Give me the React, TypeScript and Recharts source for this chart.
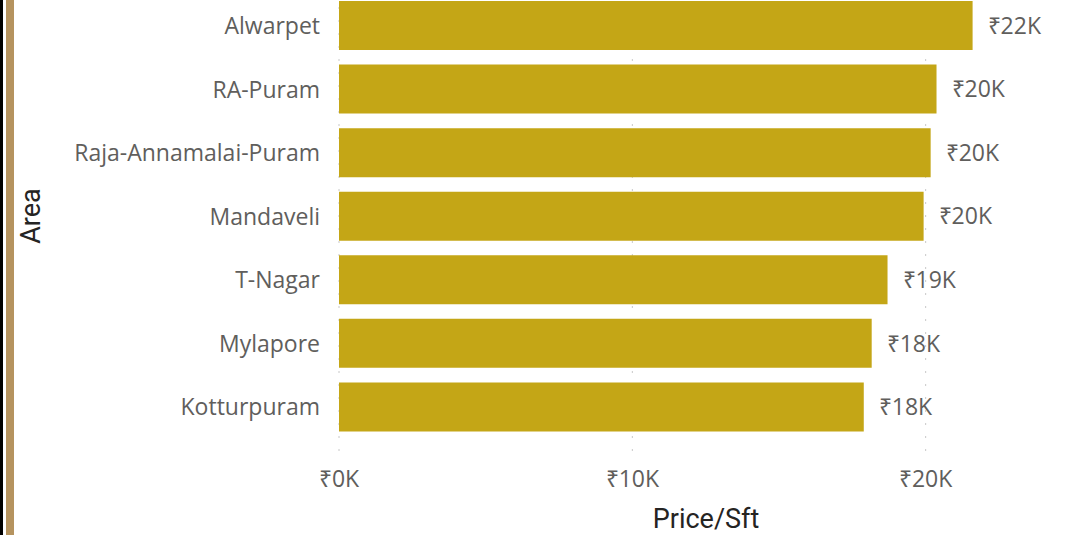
import React from "react";
import { BarChart, Bar, XAxis, YAxis, CartesianGrid, LabelList, Label } from "recharts";

const areas = ["Alwarpet", "RA-Puram", "Raja-Annamalai-Puram", "Mandaveli", "T-Nagar", "Mylapore", "Kotturpuram"];
const pricePerSft = [21600, 20370, 20170, 19930, 18700, 18160, 17890];
const xTicks = [0, 10000, 20000];
const xMax = 24000;

const data = areas.map((a, i) => ({ area: a, price: pricePerSft[i] }));

const fmt = (v: number) => `₹${Math.round(v / 1000)}K`;

const tickFont = { fontFamily: "'Segoe UI', 'Open Sans', sans-serif", fontSize: 23, fill: "#605e5c" };
const titleFont = "'Roboto', 'DejaVu Sans', sans-serif";

const gridX = (props: any) => {
  const xAxis = props?.xAxis;
  if (xAxis && typeof xAxis.scale === "function") {
    return xTicks.map((t) => xAxis.scale(t));
  }
  const off = props?.offset || { left: 339, width: 704 };
  return xTicks.map((t) => off.left + (t / xMax) * off.width);
};

export default function App() {
  return (
    <div style={{ position: "fixed", left: 0, top: 0, width: 1077, height: 535, background: "#fff", overflow: "hidden" }}>
      <div style={{ position: "absolute", left: 0, top: 0, width: 3, height: 535, background: "#000" }} />
      <div style={{ position: "absolute", left: 6, top: 0, width: 8, height: 535, background: "#b5935f" }} />
      <div style={{ position: "absolute", left: 0, top: 0 }}>
        <BarChart
          width={1077}
          height={535}
          data={data}
          layout="vertical"
          margin={{ top: -6, right: 34, left: 0, bottom: 0 }}
          barSize={49}
        >
          <CartesianGrid
            horizontal={false}
            vertical={true}
            stroke="#c8c8c8"
            strokeDasharray="2 11"
            verticalCoordinatesGenerator={gridX}
          />
          <XAxis
            type="number"
            domain={[0, xMax]}
            ticks={xTicks}
            tickFormatter={fmt}
            axisLine={false}
            tickLine={false}
            tickSize={0}
            tickMargin={12}
            height={76}
            tick={tickFont}
            interval={0}
          >
            <Label
              content={() => (
                <text x={706} y={519} textAnchor="middle" dominantBaseline="central" fontFamily={titleFont} fontSize={27} fontWeight={400} fill="#252423">
                  Price/Sft
                </text>
              )}
            />
          </XAxis>
          <YAxis
            type="category"
            dataKey="area"
            width={339}
            axisLine={false}
            tickLine={false}
            tickSize={0}
            tickMargin={19}
            padding={{ top: 0, bottom: 20 }}
            tick={tickFont}
            interval={0}
          >
            <Label
              content={() => (
                <text x={31} y={216} textAnchor="middle" dominantBaseline="central" transform="rotate(-90 31 216)" fontFamily={titleFont} fontSize={27} fontWeight={400} fill="#252423">
                  Area
                </text>
              )}
            />
          </YAxis>
          <Bar dataKey="price" fill="#c4a616" isAnimationActive={false}>
            <LabelList dataKey="price" position="right" offset={15} formatter={(v: any) => fmt(Number(v))} style={tickFont} />
          </Bar>
        </BarChart>
      </div>
    </div>
  );
}
